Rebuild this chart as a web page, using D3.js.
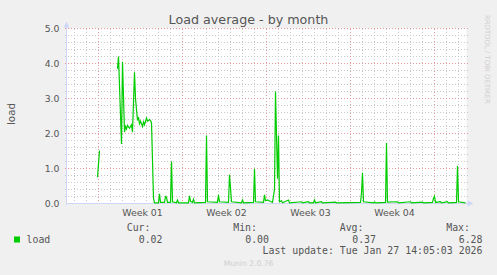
<!DOCTYPE html>
<html><head><meta charset="utf-8">
<script src="https://cdn.jsdelivr.net/npm/d3@7"></script>
<style>html,body{margin:0;padding:0;background:#f0f0f0;} svg{display:block}</style>
</head><body><svg id="c" width="497" height="275"></svg>
<script>
const chartTitle = "Load average - by month";
const yAxisLabel = "load";
const yTickValues = [0, 1, 2, 3, 4, 5];
const weekLabels = ["Week 01", "Week 02", "Week 03", "Week 04"];
const weekLabelTimes = ["2026-01-01T16:00", "2026-01-08T16:00", "2026-01-15T16:00", "2026-01-22T16:00"];
const timeDomain = ["2025-12-26T08:00", "2026-01-28T16:00"];

const times = [
  "2025-12-28T22:00","2025-12-29T02:00",null,
  "2025-12-30T14:00","2025-12-30T16:00","2025-12-30T22:00","2025-12-31T00:00","2025-12-31T04:00",
  "2025-12-31T06:00","2025-12-31T08:00","2025-12-31T10:00","2025-12-31T14:00","2025-12-31T16:00",
  "2025-12-31T18:00","2025-12-31T20:00","2026-01-01T00:00","2026-01-01T02:00","2026-01-01T06:00",
  "2026-01-01T08:00","2026-01-01T10:00","2026-01-01T12:00","2026-01-01T16:00","2026-01-01T18:00",
  "2026-01-01T20:00","2026-01-02T00:00","2026-01-02T02:00","2026-01-02T06:00","2026-01-02T08:00",
  "2026-01-02T10:00","2026-01-02T14:00","2026-01-02T16:00",
  "2026-01-03T00:00","2026-01-03T02:00","2026-01-03T04:00","2026-01-03T12:00","2026-01-03T14:00",
  "2026-01-03T16:00","2026-01-03T18:00","2026-01-04T00:00","2026-01-04T02:00","2026-01-04T04:00",
  "2026-01-04T12:00","2026-01-04T14:00","2026-01-04T16:00","2026-01-05T12:00","2026-01-05T14:00",
  "2026-01-05T16:00","2026-01-05T20:00","2026-01-05T22:00","2026-01-06T00:00","2026-01-06T22:00",
  "2026-01-07T00:00","2026-01-07T02:00","2026-01-07T22:00","2026-01-08T00:00","2026-01-08T02:00",
  "2026-01-08T20:00","2026-01-08T22:00","2026-01-09T00:00","2026-01-09T02:00","2026-01-09T22:00",
  "2026-01-10T00:00","2026-01-10T02:00","2026-01-10T22:00","2026-01-11T00:00","2026-01-11T02:00",
  "2026-01-11T18:00","2026-01-11T20:00","2026-01-11T22:00","2026-01-12T02:00","2026-01-12T12:00",
  "2026-01-12T16:00","2026-01-12T18:00","2026-01-12T22:00","2026-01-13T00:00","2026-01-13T02:00",
  "2026-01-13T06:00","2026-01-13T08:00","2026-01-13T20:00","2026-01-13T22:00","2026-01-14T22:00",
  "2026-01-15T00:00","2026-01-15T12:00","2026-01-15T14:00","2026-01-15T22:00","2026-01-16T00:00",
  "2026-01-16T02:00","2026-01-16T14:00","2026-01-16T16:00","2026-01-17T18:00","2026-01-17T20:00",
  "2026-01-19T20:00","2026-01-19T22:00","2026-01-20T00:00","2026-01-20T02:00","2026-01-20T22:00",
  "2026-01-21T00:00","2026-01-21T02:00","2026-01-21T22:00","2026-01-22T00:00","2026-01-22T02:00",
  "2026-01-22T22:00","2026-01-23T00:00","2026-01-24T00:00","2026-01-24T02:00","2026-01-25T00:00",
  "2026-01-25T02:00","2026-01-25T20:00","2026-01-25T22:00","2026-01-26T00:00","2026-01-26T02:00",
  "2026-01-26T12:00","2026-01-26T14:00","2026-01-27T02:00","2026-01-27T04:00","2026-01-27T20:00",
  "2026-01-27T22:00","2026-01-28T00:00","2026-01-28T14:00"
];
const loads = [
  0.75,1.51,null,
  3.85,4.2,1.7,4.05,2.04,
  2.2,2.13,2.23,2.15,2.2,
  2.25,2.04,3.75,3.0,2.37,
  2.47,2.28,2.35,2.2,2.33,
  2.25,2.44,2.35,2.4,2.37,
  2.3,0.15,0.02,
  0.02,0.28,0.03,0.03,0.2,
  0.18,0.03,0.03,1.2,0.05,
  0.02,0.1,0.02,0.02,0.22,
  0.06,0.03,0.12,0.02,0.03,
  1.94,0.05,0.03,0.25,0.05,
  0.03,0.82,0.45,0.05,0.02,
  0.1,0.02,0.03,0.99,0.05,
  0.03,0.25,0.08,0.1,0.03,
  0.4,3.2,0.71,1.94,0.05,
  0.08,0.02,0.1,0.02,0.05,
  0.02,0.05,0.02,0.02,0.1,
  0.02,0.05,0.02,0.04,0.02,
  0.03,0.3,0.88,0.05,0.02,
  0.05,0.02,0.03,1.73,0.04,
  0.05,0.02,0.05,0.02,0.04,
  0.02,0.03,0.15,0.21,0.03,
  0.05,0.02,0.05,0.02,0.03,
  1.07,0.05,0.02
];
const legendName = "load";
const legendHeaders = ["Cur:", "Min:", "Avg:", "Max:"];
const legendValues = ["0.02", "0.00", "0.37", "6.28"];
const lastUpdate = "Last update: Tue Jan 27 14:05:03 2026";
const footer = "Munin 2.0.76";
const sideText = "RRDTOOL / TOBI OETIKER";

const parse = d3.utcParse("%Y-%m-%dT%H:%M");
const svg = d3.select("#c");
const L = 66.5, R = 466.5, T = 28.5, B = 203.5;
const x = d3.scaleUtc().domain(timeDomain.map(parse)).range([L, R]);
const y = d3.scaleLinear().domain([0, 5]).range([B, T]);

const sans = "'DejaVu Sans', Verdana, sans-serif";
const mono = "'DejaVu Sans Mono', monospace";
const fontCol = "#555";
const axisCol = "#cfd6f8";
const minorCol = "#c8c8c8";
const majorCol = "#e89a9a";

svg.append("rect").attr("width", 497).attr("height", 275).attr("fill", "#f0f0f0");
svg.append("rect").attr("x", L).attr("y", T).attr("width", R - L).attr("height", B - T).attr("fill", "#fff");

// grid
const g = svg.append("g").attr("shape-rendering", "crispEdges");
const minorY = d3.range(1, 25).map(i => i * 0.2).filter((v, i) => (i + 1) % 5 !== 0);
minorY.forEach(v => {
  const yy = Math.round(y(v) - 0.5) + 0.5;
  g.append("line").attr("x1", L - 2).attr("x2", R + 2).attr("y1", yy).attr("y2", yy)
    .attr("stroke", minorCol).attr("stroke-dasharray", "1,2");
});
const [d0, d1] = x.domain();
d3.utcDay.range(d0, d1).filter(d => d.getUTCDay() !== 1).forEach(d => {
  const xx = Math.round(x(d) - 0.5) + 0.5;
  g.append("line").attr("x1", xx).attr("x2", xx).attr("y1", T).attr("y2", B + 2)
    .attr("stroke", minorCol).attr("stroke-dasharray", "1,2");
});
yTickValues.filter(v => v > 0).forEach(v => {
  const yy = Math.round(y(v) - 0.5) + 0.5;
  g.append("line").attr("x1", L - 2).attr("x2", R + 2).attr("y1", yy).attr("y2", yy)
    .attr("stroke", majorCol).attr("stroke-dasharray", "1,2");
});
d3.utcMonday.range(d0, d1).forEach(d => {
  const xx = Math.round(x(d) - 0.5) + 0.5;
  g.append("line").attr("x1", xx).attr("x2", xx).attr("y1", T).attr("y2", B + 2)
    .attr("stroke", majorCol).attr("stroke-dasharray", "1,2");
});

// axes
g.append("line").attr("x1", L).attr("x2", L).attr("y1", B + 1).attr("y2", T - 4).attr("stroke", axisCol);
g.append("line").attr("x1", L - 1).attr("x2", R + 2).attr("y1", B).attr("y2", B).attr("stroke", axisCol);
svg.append("path").attr("d", `M${L - 3},${T - 1}L${L},${T - 7}L${L + 3},${T - 1}Z`).attr("fill", axisCol);
svg.append("path").attr("d", `M${R + 1},${B - 3}L${R + 7},${B}L${R + 1},${B + 3}Z`).attr("fill", axisCol);

// data line
const pts = times.map((t, i) => ({ t: t ? parse(t) : null, v: loads[i] }));
svg.append("path").datum(pts)
  .attr("d", d3.line().defined(d => d.t !== null && d.v !== null).x(d => x(d.t)).y(d => y(d.v)))
  .attr("fill", "none").attr("stroke", "#00cc00").attr("stroke-width", 1.2);

// y tick labels
yTickValues.forEach(v => {
  svg.append("text").attr("x", 59.5).attr("y", y(v) + 3.3).attr("text-anchor", "end")
    .attr("font-family", sans).attr("font-size", 9.3).attr("fill", fontCol).text(d3.format(".1f")(v));
});
// x labels
weekLabels.forEach((lab, i) => {
  svg.append("text").attr("x", x(parse(weekLabelTimes[i]))).attr("y", 216).attr("text-anchor", "middle")
    .attr("font-family", sans).attr("font-size", 9.4).attr("fill", fontCol).text(lab);
});
// title
svg.append("text").attr("x", 248.5).attr("y", 24).attr("text-anchor", "middle")
  .attr("font-family", sans).attr("font-size", 12.7).attr("fill", fontCol).text(chartTitle);
// y label
svg.append("text").attr("transform", "translate(15,114) rotate(-90)").attr("text-anchor", "middle")
  .attr("font-family", sans).attr("font-size", 10.3).attr("fill", fontCol).text(yAxisLabel);

// legend
svg.append("rect").attr("x", 14).attr("y", 236.5).attr("width", 6).attr("height", 6).attr("fill", "#00cc00");
svg.append("text").attr("x", 26.5).attr("y", 242.5).attr("font-family", mono).attr("font-size", 9.9)
  .attr("fill", fontCol).text(legendName);
const headRight = [150.5, 257, 363.5, 470];
const valRight = [162.5, 269, 376, 482.5];
legendHeaders.forEach((h, i) => {
  svg.append("text").attr("x", headRight[i]).attr("y", 230.8).attr("text-anchor", "end")
    .attr("font-family", mono).attr("font-size", 9.9).attr("fill", fontCol).text(h);
  svg.append("text").attr("x", valRight[i]).attr("y", 242.5).attr("text-anchor", "end")
    .attr("font-family", mono).attr("font-size", 9.9).attr("fill", fontCol).text(legendValues[i]);
});
svg.append("text").attr("x", 482.5).attr("y", 254.3).attr("text-anchor", "end")
  .attr("font-family", mono).attr("font-size", 9.9).attr("fill", fontCol).text(lastUpdate);
svg.append("text").attr("x", 248.5).attr("y", 266).attr("text-anchor", "middle")
  .attr("font-family", sans).attr("font-size", 7.6).attr("fill", "#cfcfcf").text(footer);
svg.append("text").attr("transform", "translate(485,15) rotate(90)")
  .attr("font-family", sans).attr("font-size", 6.9).attr("fill", "#cfcfcf").text(sideText);
</script></body></html>
